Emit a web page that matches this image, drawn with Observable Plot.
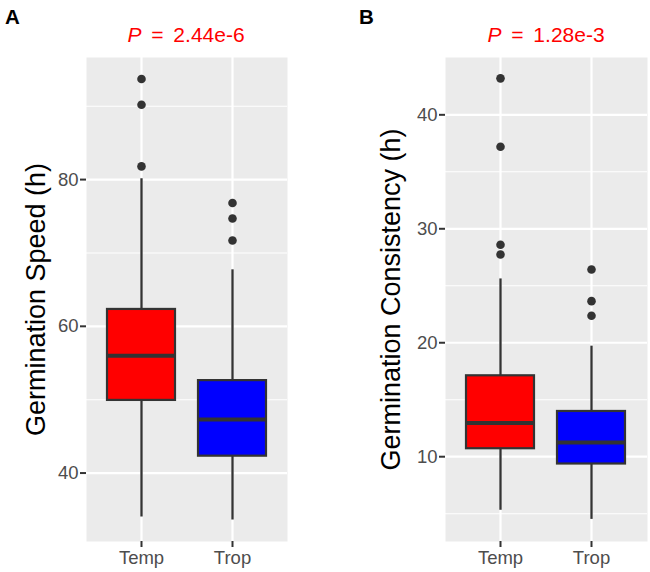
<!DOCTYPE html>
<html>
<head>
<meta charset="utf-8">
<script src="https://cdn.jsdelivr.net/npm/d3@7"></script>
<script src="https://cdn.jsdelivr.net/npm/@observablehq/plot@0.6"></script>
<style>
  html, body { margin: 0; padding: 0; background: #fff; }
  #wrap { position: relative; width: 650px; height: 572px; font-family: "Liberation Sans", Arial, sans-serif; }
  .panel { position: absolute; top: 0; }
  .ptitle { position: absolute; color: #FF0000; font-size: 21px; line-height: 21px; white-space: pre; word-spacing: 4px; transform: translateX(-50%); }
  .letter { position: absolute; font-weight: bold; font-size: 20.5px; line-height: 20px; color: #000; }
</style>
</head>
<body>
<div id="wrap"></div>
<script>
// ---- Data ----
const categories = ["Temp", "Trop"];
const boxColors = ["#FF0000", "#0000FF"];

// Panel A: Germination Speed (h)
const speedLowerWhisker = [34.0, 33.6];
const speedQ1 = [49.9, 42.3];
const speedMedian = [56.0, 47.3];
const speedQ3 = [62.3, 52.6];
const speedUpperWhisker = [80.1, 67.7];
const speedOutliersTemp = [93.7, 90.2, 81.8];
const speedOutliersTrop = [76.8, 74.7, 71.7];
const speedMajorTicks = [40, 60, 80];
const speedMinorGrid = [50, 70, 90];
const speedDomain = [30.67, 96.64];

// Panel B: Germination Consistency (h)
const consLowerWhisker = [5.3, 4.5];
const consQ1 = [10.7, 9.36];
const consMedian = [12.96, 11.25];
const consQ3 = [17.1, 13.97];
const consUpperWhisker = [25.6, 19.7];
const consOutliersTemp = [43.2, 37.2, 28.6, 27.75];
const consOutliersTrop = [26.43, 23.65, 22.37];
const consMajorTicks = [10, 20, 30, 40];
const consMinorGrid = [5, 15, 25, 35];
const consDomain = [2.56, 45.03];

const panelLetters = ["A", "B"];
const pValues = ["2.44e-6", "1.28e-3"];
const yTitles = ["Germination Speed (h)", "Germination Consistency (h)"];

// ---- Build ----
function boxTable(lw, q1, med, q3, uw) {
  return categories.map((c, i) => ({cat: c, lw: lw[i], q1: q1[i], med: med[i], q3: q3[i], uw: uw[i]}));
}
function outlierTable(a, b) {
  return [...a.map(v => ({cat: categories[0], v})), ...b.map(v => ({cat: categories[1], v}))];
}

const FONT = "Liberation Sans, Arial, sans-serif";

function makePanel(cfg) {
  const boxes = boxTable(...cfg.stats);
  const outs = outlierTable(...cfg.outliers);
  return Plot.plot({
    width: 325,
    height: 572,
    marginLeft: cfg.marginLeft,
    marginRight: cfg.marginRight,
    marginTop: 57,
    marginBottom: 31,
    style: {fontFamily: FONT, background: "transparent"},
    x: {type: "band", domain: categories, paddingInner: 0.25, paddingOuter: 0.225},
    y: {domain: cfg.domain},
    color: {domain: categories, range: boxColors},
    marks: [
      Plot.frame({fill: "#EBEBEB", stroke: null}),
      Plot.ruleY(cfg.minor, {stroke: "white", strokeWidth: 1.1}),
      Plot.ruleY(cfg.major, {stroke: "white", strokeWidth: 2.2}),
      Plot.ruleX(categories, {x: d => d, stroke: "white", strokeWidth: 2.2}),
      Plot.ruleX(boxes, {x: "cat", y1: "lw", y2: "uw", stroke: "#333333", strokeWidth: 2.3}),
      Plot.barY(boxes, {x: "cat", y1: "q1", y2: "q3", fill: "cat", stroke: "#333333", strokeWidth: 2.2}),
      Plot.tickY(boxes, {x: "cat", y: "med", stroke: "#333333", strokeWidth: 4}),
      Plot.dot(outs, {x: "cat", y: "v", r: 4.3, fill: "#333333"}),
      Plot.axisY({ticks: cfg.major, tickSize: 6, tickPadding: 2, fontSize: 18.5, stroke: "#333333", strokeWidth: 2, fill: "#4D4D4D", label: null}),
      Plot.axisX({tickSize: 6, tickPadding: 3, fontSize: 18.5, stroke: "#333333", strokeWidth: 2, fill: "#4D4D4D", label: null}),
      Plot.text([cfg.yTitle], {frameAnchor: "left", rotate: -90, dx: cfg.titleDx, textAnchor: "middle", lineAnchor: "bottom", fontSize: 27, fill: "#000"})
    ]
  });
}

const wrap = document.getElementById("wrap");
const panels = [
  {left: 0, marginLeft: 86, marginRight: 38, domain: speedDomain, major: speedMajorTicks, minor: speedMinorGrid,
   stats: [speedLowerWhisker, speedQ1, speedMedian, speedQ3, speedUpperWhisker],
   outliers: [speedOutliersTemp, speedOutliersTrop], yTitle: yTitles[0], titleDx: -42,
   titleX: 186, letterX: 5},
  {left: 325, marginLeft: 120, marginRight: 3, domain: consDomain, major: consMajorTicks, minor: consMinorGrid,
   stats: [consLowerWhisker, consQ1, consMedian, consQ3, consUpperWhisker],
   outliers: [consOutliersTemp, consOutliersTrop], yTitle: yTitles[1], titleDx: -46,
   titleX: 546, letterX: 359}
];

panels.forEach((cfg, i) => {
  const holder = document.createElement("div");
  holder.className = "panel";
  holder.style.left = cfg.left + "px";
  holder.appendChild(makePanel(cfg));
  wrap.appendChild(holder);

  const t = document.createElement("div");
  t.className = "ptitle";
  t.style.left = cfg.titleX + "px";
  t.style.top = "23.5px";
  const it = document.createElement("span");
  it.style.fontStyle = "italic";
  it.textContent = "P";
  t.appendChild(it);
  t.appendChild(document.createTextNode(" = " + pValues[i]));
  wrap.appendChild(t);

  const l = document.createElement("div");
  l.className = "letter";
  l.style.left = cfg.letterX + "px";
  l.style.top = "7px";
  l.textContent = panelLetters[i];
  wrap.appendChild(l);
});
</script>
</body>
</html>
